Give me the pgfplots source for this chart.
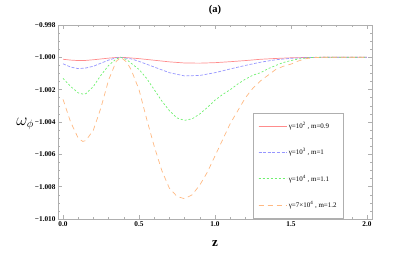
\documentclass[border=0pt]{standalone}
\usepackage{fontspec}
\setmainfont{Liberation Serif}
\usepackage{pgfplots}
\pgfplotsset{compat=1.18}
\definecolor{cred}{RGB}{255,140,140}
\definecolor{cblue}{RGB}{150,150,255}
\definecolor{cgreen}{RGB}{110,240,110}
\definecolor{corange}{RGB}{255,185,130}
\definecolor{frame}{RGB}{175,175,175}
\begin{document}
\begin{tikzpicture}
\useasboundingbox (0,0) rectangle (407bp,255bp);
\begin{axis}[
  at={(58bp,36bp)}, anchor=south west,
  scale only axis, width=314bp, height=194bp,
  clip=false,
  xmin=-0.033, xmax=2.033, ymin=-1.010, ymax=-0.998,
  axis line style={frame},
  tick style={frame, line width=0.5pt},
  major tick length=4bp, minor tick length=2.2bp,
  xtick={0,0.5,1,1.5,2},
  xticklabels={0.0,0.5,1.0,1.5,2.0},
  minor x tick num=4,
  ytick={-1.010,-1.008,-1.006,-1.004,-1.002,-1.000,-0.998},
  yticklabels={−1.010,−1.008,−1.006,−1.004,−1.002,−1.000,−0.998},
  minor y tick num=3,
  scaled y ticks=false,
  tick label style={font=\fontsize{7.3}{8}\selectfont\bfseries},
  xticklabel style={yshift=1bp},
  yticklabel style={xshift=1bp},
  xlabel={\textbf{z}},
  xlabel style={font=\fontsize{13}{14}\selectfont, at={(axis description cs:0.5,-0.124)}, anchor=center},
  legend style={at={(axis description cs:0.621,0.546)}, anchor=north west,
    draw=frame, fill=white, font=\fontsize{7}{8}\selectfont,
    inner xsep=5bp, inner ysep=7bp, row sep=14.5bp},
  legend cell align=left,
  legend image code/.code={\draw[#1] (0bp,0bp) -- (11bp,0bp); \path (0bp,0bp) -- (28bp,0bp);},
]
\node[font=\fontsize{16}{17}\selectfont] at (axis description cs:-0.105,0.49) {$\omega_{\phi}$};
\node[font=\fontsize{10.5}{11}\selectfont\bfseries] at (axis description cs:0.5,1.077) {(a)};
\addplot[cred, line width=0.7pt] coordinates {
(0,-1.00012) (0.05,-1.00017) (0.1,-1.00020) (0.15,-1.00019) (0.2,-1.00015) (0.25,-1.00010) (0.3,-1.00005) (0.35,-1.00001) (0.38,-1.00000)
(0.42,-1.00002) (0.5,-1.00008) (0.6,-1.00018) (0.7,-1.00028) (0.8,-1.00035) (0.9,-1.00036) (1.0,-1.00033) (1.1,-1.00027) (1.2,-1.00020)
(1.3,-1.00012) (1.4,-1.00007) (1.5,-1.00003) (1.6,-1.00001) (1.7,-1.00000) (1.8,-1.00000) (2.0,-1.00000)};
\addlegendentry{γ=10\textsuperscript{2} , m=0.9}
\addplot[cblue, line width=0.7pt, dash pattern=on 3bp off 1.6bp] coordinates {
(0,-1.00040) (0.05,-1.00060) (0.1,-1.00070) (0.15,-1.00066) (0.2,-1.00055) (0.25,-1.00036) (0.3,-1.00017) (0.35,-1.00003) (0.38,-1.00000)
(0.45,-1.00010) (0.5,-1.00025) (0.6,-1.00060) (0.7,-1.00095) (0.8,-1.00115) (0.9,-1.00112) (1.0,-1.00095) (1.1,-1.00072) (1.2,-1.00050)
(1.3,-1.00030) (1.4,-1.00015) (1.5,-1.00006) (1.6,-1.00002) (1.7,-1.00000) (1.8,-1.00000) (2.0,-1.00000)};
\addlegendentry{γ=10\textsuperscript{3} , m=1}
\addplot[cgreen, line width=0.7pt, dash pattern=on 2bp off 2bp] coordinates {
(0,-1.00130) (0.05,-1.00180) (0.1,-1.00220) (0.13,-1.00227) (0.15,-1.00225) (0.2,-1.00180) (0.25,-1.00110) (0.3,-1.00050) (0.35,-1.00010) (0.38,-1.00000)
(0.42,-1.00015) (0.5,-1.00075) (0.55,-1.00130) (0.6,-1.00200) (0.65,-1.00270) (0.7,-1.00330) (0.75,-1.00375) (0.8,-1.00390) (0.85,-1.00380)
(0.9,-1.00350) (0.95,-1.00310) (1.0,-1.00265) (1.05,-1.00230) (1.1,-1.00200) (1.15,-1.00165) (1.2,-1.00135) (1.25,-1.00110) (1.3,-1.00095)
(1.35,-1.00070) (1.4,-1.00050) (1.45,-1.00032) (1.5,-1.00020) (1.55,-1.00010) (1.6,-1.00004) (1.65,-1.00000) (1.8,-1.00000) (2.0,-1.00000)};
\addlegendentry{γ=10\textsuperscript{4} , m=1.1}
\addplot[corange, line width=0.7pt, dash pattern=on 5bp off 4bp] coordinates {
(0,-1.00260) (0.05,-1.00400) (0.1,-1.00500) (0.13,-1.00520) (0.15,-1.00515) (0.2,-1.00450) (0.25,-1.00310) (0.3,-1.00140) (0.35,-1.00025) (0.38,-1.00000)
(0.42,-1.00030) (0.45,-1.00080) (0.5,-1.00200) (0.55,-1.00380) (0.6,-1.00550) (0.65,-1.00700) (0.7,-1.00810) (0.75,-1.00860) (0.8,-1.00875)
(0.85,-1.00850) (0.9,-1.00790) (0.95,-1.00710) (1.0,-1.00610) (1.05,-1.00510) (1.1,-1.00410) (1.15,-1.00330) (1.2,-1.00250) (1.25,-1.00190)
(1.3,-1.00145) (1.35,-1.00110) (1.4,-1.00075) (1.45,-1.00055) (1.5,-1.00042) (1.55,-1.00022) (1.6,-1.00008) (1.65,-1.00002) (1.7,-1.00000) (1.8,-1.00000) (2.0,-1.00000)};
\addlegendentry{γ=7×10\textsuperscript{4} , m=1.2}
\end{axis}
\end{tikzpicture}
\end{document}
